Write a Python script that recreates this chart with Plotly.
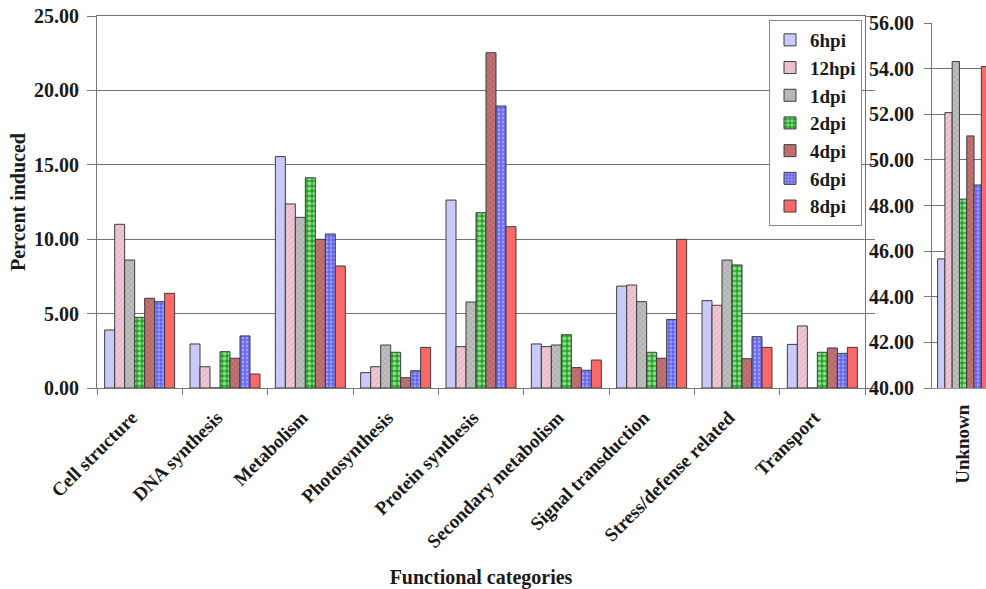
import plotly.graph_objects as go

# Functional categories (main panel) and the separate "Unknown" panel
categories = ["Cell structure", "DNA synthesis", "Metabolism", "Photosynthesis",
              "Protein synthesis", "Secondary metabolism", "Signal transduction",
              "Stress/defense related", "Transport"]
unknown_category = ["Unknown"]

series_names = ["6hpi", "12hpi", "1dpi", "2dpi", "4dpi", "6dpi", "8dpi"]

# Percent induced per category, one list per time point
pct_6hpi = [3.90, 2.96, 15.55, 1.03, 12.63, 2.96, 6.85, 5.87, 2.93]
pct_12hpi = [11.00, 1.43, 12.37, 1.43, 2.78, 2.78, 6.92, 5.56, 4.17]
pct_1dpi = [8.60, 0.00, 11.47, 2.89, 5.78, 2.89, 5.80, 8.60, 0.00]
pct_2dpi = [4.75, 2.44, 14.13, 2.40, 11.78, 3.58, 2.40, 8.27, 2.40]
pct_4dpi = [6.03, 2.00, 9.99, 0.69, 22.53, 1.37, 2.00, 1.97, 2.69]
pct_6dpi = [5.80, 3.50, 10.35, 1.16, 18.95, 1.19, 4.61, 3.45, 2.33]
pct_8dpi = [6.36, 0.94, 8.20, 2.73, 10.84, 1.88, 9.99, 2.73, 2.73]

# Percent of unknown-function genes (right-hand scale)
unknown_pct = [45.66, 52.07, 54.31, 48.28, 51.05, 48.90, 54.09]

main_values = [pct_6hpi, pct_12hpi, pct_1dpi, pct_2dpi, pct_4dpi, pct_6dpi, pct_8dpi]

# Fill colour and texture for each time point
styles = [
    dict(color="#CACAFA", pattern=dict(shape="")),
    dict(color="#E9BACD", pattern=dict(shape="/", fgcolor="#F8E4EC", size=4, solidity=0.3)),
    dict(color="#B2B2B2", pattern=dict(shape="x", fgcolor="#E6E6E6", size=4, solidity=0.3)),
    dict(color="#22A822", pattern=dict(shape=".", fgcolor="#FFFFFF", size=5, solidity=0.5)),
    dict(color="#B86868", pattern=dict(shape="x", fgcolor="#D9A2A2", size=4, solidity=0.3)),
    dict(color="#6666F2", pattern=dict(shape=".", fgcolor="#D4D4FF", size=4, solidity=0.4)),
    dict(color="#FF6868", pattern=dict(shape="")),
]

SERIF = "Liberation Serif"
INK = "#1A1A1A"
W, H = 986, 589

fig = go.Figure()

for name, vals, st in zip(series_names, main_values, styles):
    fig.add_trace(go.Bar(
        name=name, x=categories, y=vals, xaxis="x", yaxis="y",
        marker=dict(color=st["color"], pattern=st["pattern"],
                    line=dict(color="#3C3C3C", width=1)),
        legendgroup=name,
    ))

for name, val, st in zip(series_names, unknown_pct, styles):
    fig.add_trace(go.Bar(
        name=name, x=unknown_category, y=[val], xaxis="x2", yaxis="y2",
        marker=dict(color=st["color"], pattern=st["pattern"],
                    line=dict(color="#3C3C3C", width=1)),
        legendgroup=name, showlegend=False,
    ))

def px_x(p):
    return p / W

def px_y(p):
    return 1 - p / H

def bold(size):
    return dict(family=SERIF, size=size, color=INK, weight="bold")

fig.update_layout(
    width=W, height=H,
    margin=dict(l=0, r=0, t=0, b=0),
    paper_bgcolor="white", plot_bgcolor="white",
    barmode="group", bargap=0.18, bargroupgap=0,
    font=dict(family=SERIF, color=INK, weight="bold"),
    xaxis=dict(
        domain=[px_x(97), px_x(865)], anchor="y",
        tickson="boundaries", ticks="outside", ticklen=6, tickcolor="#777",
        showline=True, linecolor="#777", mirror=True,
        tickangle=-45, tickfont=bold(19),
        ticklabelshift=-8, ticklabelstandoff=10,
        title=dict(text="Functional categories", standoff=18, font=bold(20)),
        automargin=False,
    ),
    yaxis=dict(
        domain=[px_y(388), px_y(16)], anchor="x",
        range=[0, 25], dtick=5, tickformat=".2f",
        ticks="outside", ticklen=9, tickcolor="#777",
        showline=True, linecolor="#777", mirror="ticks",
        showgrid=True, gridcolor="#737373", gridwidth=1,
        tickfont=bold(20), ticklabelstandoff=4,
        title=dict(text="Percent induced", standoff=3, font=bold(20)),
        automargin=False,
    ),
    xaxis2=dict(
        domain=[px_x(932), 1.0], anchor="y2",
        range=[-0.5, 0.368],
        ticks="", showline=True, linecolor="#9A9A9A",
        tickangle=-90, tickfont=bold(19), ticklabelstandoff=8,
        automargin=False,
    ),
    yaxis2=dict(
        domain=[px_y(388), px_y(23)], anchor="x2",
        range=[40, 56], dtick=2, tickformat=".2f",
        ticks="outside", ticklen=7, tickcolor="#777",
        showline=True, linecolor="#777",
        showgrid=True, gridcolor="#737373", gridwidth=1,
        tickfont=bold(20), ticklabelstandoff=6,
        automargin=False,
    ),
    legend=dict(
        x=px_x(862), y=px_y(20), xanchor="right", yanchor="top",
        bgcolor="white", bordercolor="#8A8A8A", borderwidth=1,
        font=bold(19), itemwidth=30, tracegroupgap=0,
    ),
)

fig.write_html("out.html")
